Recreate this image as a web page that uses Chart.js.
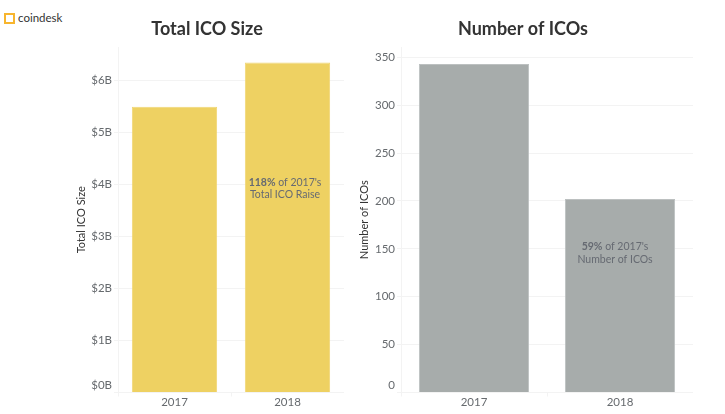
<!DOCTYPE html>
<html>
<head>
<meta charset="utf-8">
<title>Total ICO Size and Number of ICOs</title>
<script src="https://cdn.jsdelivr.net/npm/chart.js@4"></script>
<style>
  html, body { margin: 0; padding: 0; background: #fff; }
  body { position: relative; width: 725px; height: 414px; overflow: hidden; font-family: Lato, sans-serif; }
  .box { position: absolute; top: 0; height: 414px; }
  .logo-mark { position: absolute; left: 4px; top: 13px; width: 7px; height: 7px; border: 2px dashed #f7b52e; }
  .logo-text { position: absolute; left: 18px; top: 10px; font-size: 11.5px; line-height: 16px; color: #333; }
</style>
</head>
<body>
<div class="logo-mark"></div>
<div class="logo-text">coindesk</div>
<div class="box" style="left:70px;width:274px"><canvas id="sizeChart"></canvas></div>
<div class="box" style="left:353px;width:340px"><canvas id="countChart"></canvas></div>
<script>
const years = ['2017', '2018'];

const sizeValues = [5.49, 6.34];
const sizeTicks = [0, 1, 2, 3, 4, 5, 6];
const sizeTickLabels = ['$0B', '$1B', '$2B', '$3B', '$4B', '$5B', '$6B'];
const sizeNote = ['118%', " of 2017's", 'Total ICO Raise'];

const countValues = [343, 202];
const countTicks = [0, 50, 100, 150, 200, 250, 300, 350];
const countTickLabels = ['0', '50', '100', '150', '200', '250', '300', '350'];
const countNote = ['59%', " of 2017's", 'Number of ICOs'];

const tickColor = '#666a6e';
const gridColor = '#f3f3f3';
const fontName = 'Lato, sans-serif';

// writes the two line note inside the 2018 bar
const notePlugin = {
  id: 'barNote',
  afterDatasetsDraw(chart, args, opts) {
    const ctx = chart.ctx;
    const x = chart.scales.x.getPixelForValue(1) + opts.shift;
    const y = chart.scales.y.getPixelForValue(opts.at);
    ctx.save();
    ctx.fillStyle = '#666a72';
    ctx.textBaseline = 'middle';
    ctx.font = 'bold 10.5px ' + fontName;
    const boldW = ctx.measureText(opts.lines[0]).width;
    ctx.font = '10.5px ' + fontName;
    const restW = ctx.measureText(opts.lines[1]).width;
    const left = x - (boldW + restW) / 2;
    ctx.textAlign = 'left';
    ctx.font = 'bold 10.5px ' + fontName;
    ctx.fillText(opts.lines[0], left, y);
    ctx.font = '10.5px ' + fontName;
    ctx.fillText(opts.lines[1], left + boldW, y);
    ctx.textAlign = 'center';
    ctx.fillText(opts.lines[2], x, y + 12.4);
    ctx.restore();
  }
};

function makeChart(id, cfg) {
  return new Chart(document.getElementById(id), {
    type: 'bar',
    data: {
      labels: years,
      datasets: [{
        data: cfg.values,
        backgroundColor: cfg.color,
        borderColor: cfg.edge,
        borderWidth: 1,
        categoryPercentage: 1,
        barPercentage: 0.755
      }]
    },
    options: {
      responsive: true,
      maintainAspectRatio: false,
      animation: false,
      layout: { autoPadding: false, padding: 0 },
      plugins: {
        legend: { display: false },
        tooltip: { enabled: false },
        title: {
          display: true,
          text: cfg.title,
          color: '#333',
          font: { family: fontName, size: 18, weight: 'bold', lineHeight: 1.2 },
          padding: { top: 18, bottom: 7.4 }
        },
        barNote: cfg.note
      },
      scales: {
        x: {
          grid: { drawOnChartArea: false, color: gridColor, tickLength: 4 },
          border: { color: gridColor },
          ticks: { color: tickColor, padding: -1, font: { family: fontName, size: 11.5 } },
          afterFit(axis) { axis.height = 21.5; }
        },
        y: {
          min: 0,
          max: cfg.max,
          grid: { color: gridColor, tickLength: 4 },
          border: { color: gridColor },
          title: {
            display: true,
            text: cfg.title,
            color: '#333',
            font: { family: fontName, size: 11 },
            padding: { top: 5, bottom: 0 }
          },
          ticks: {
            color: tickColor,
            padding: 2,
            font: { family: fontName, size: 11.5 },
            // the zero label sits a bit above the axis line in the original
            callback(value) {
              const label = cfg.tickLabels[cfg.ticks.indexOf(value)];
              return value === 0 ? [label, ''] : label;
            }
          },
          afterBuildTicks(axis) { axis.ticks = cfg.ticks.map(v => ({ value: v })); },
          afterFit(axis) { axis.width = 48; }
        }
      }
    },
    plugins: [notePlugin]
  });
}

makeChart('sizeChart', {
  title: 'Total ICO Size',
  values: sizeValues,
  color: '#eed162',
  edge: '#f0d674',
  max: 6.64,
  ticks: sizeTicks,
  tickLabels: sizeTickLabels,
  note: { lines: sizeNote, at: 4.04, shift: -2.5 }
});

makeChart('countChart', {
  title: 'Number of ICOs',
  values: countValues,
  color: '#a7acab',
  edge: '#bcc0c0',
  max: 360.7,
  ticks: countTicks,
  tickLabels: countTickLabels,
  note: { lines: countNote, at: 152, shift: -5 }
});
</script>
</body>
</html>
